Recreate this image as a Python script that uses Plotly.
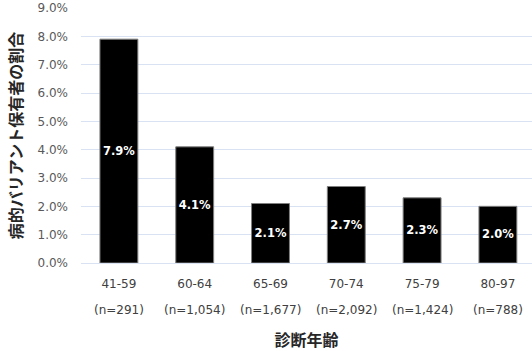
import plotly.graph_objects as go

age_groups = ["41-59", "60-64", "65-69", "70-74", "75-79", "80-97"]
n_labels = ["(n=291)", "(n=1,054)", "(n=1,677)", "(n=2,092)", "(n=1,424)", "(n=788)"]
rates = [7.9, 4.1, 2.1, 2.7, 2.3, 2.0]
y_ticks = [0, 1, 2, 3, 4, 5, 6, 7, 8, 9]

font_fam = "DejaVu Sans, Verdana, sans-serif"
jp_font = "Noto Sans CJK JP, sans-serif"

fig = go.Figure()
fig.add_trace(go.Bar(
    x=list(range(len(age_groups))),
    y=rates,
    width=0.5,
    marker=dict(color="#000000", line=dict(color="#7f7f7f", width=1)),
    text=[f"{v:.1f}%" for v in rates],
    textposition="inside",
    insidetextanchor="middle",
    textangle=0,
    textfont=dict(family=font_fam, size=12, color="white", weight="bold"),
    hoverinfo="skip",
))

for i, lab in enumerate(n_labels):
    fig.add_annotation(x=i, xref="x", y=0, yref="y", text=lab, showarrow=False,
                       yanchor="middle", yshift=-47,
                       font=dict(family=font_fam, size=12, color="#404040"))

fig.update_layout(
    width=532, height=351,
    margin=dict(l=81, r=0, t=8, b=88),
    plot_bgcolor="white", paper_bgcolor="white",
    showlegend=False,
    xaxis=dict(
        range=[-0.5, 5.45],
        tickmode="array", tickvals=list(range(len(age_groups))), ticktext=age_groups,
        tickfont=dict(family=font_fam, size=12, color="#404040"),
        showgrid=False, showline=False, zeroline=False,
        ticks="", ticklabelstandoff=12,
        title=dict(text="診断年齢", font=dict(family=jp_font, size=16, color="#262626", weight="bold"),
                   standoff=44),
    ),
    yaxis=dict(
        range=[0, 9],
        tickmode="array", tickvals=y_ticks, ticktext=[f"{v:.1f}%" for v in y_ticks],
        tickfont=dict(family=font_fam, size=12, color="#595959"),
        showgrid=True, gridcolor="#d9e2f3", gridwidth=1,
        zeroline=True, zerolinecolor="#d9e2f3", zerolinewidth=1,
        showline=False, ticks="", ticklabelstandoff=12,
        title=dict(text="病的バリアント保有者の割合", font=dict(family=jp_font, size=16, color="#262626", weight="bold"),
                   standoff=10),
    ),
)

fig.write_html("out.html")
